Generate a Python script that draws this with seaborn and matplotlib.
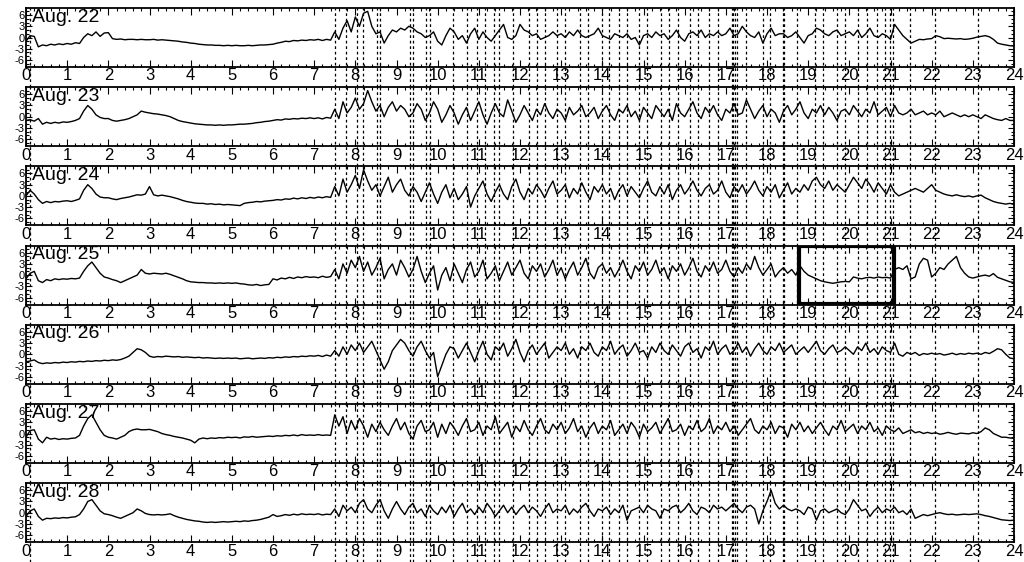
import numpy as np
import matplotlib
matplotlib.use('Agg')
import matplotlib.pyplot as plt
from matplotlib.patches import Rectangle
from matplotlib.ticker import MultipleLocator
import seaborn as sns

# ── Data: one value every 0.1 h, 0..24 h ──────────────────────────────────────
days = ['Aug. 22', 'Aug. 23', 'Aug. 24', 'Aug. 25', 'Aug. 26', 'Aug. 27', 'Aug. 28']
hours = np.round(np.arange(241) * 0.1, 1)

aug22 = [
    -1, 0.5, 0.3, -2.5, -2, -2.2, -1.8, -2, -1.7, -1.9,
    -1.6, -1.8, -1.4, -1.6, 0, 1, 0.5, 1.5, 0.3, 1.2,
    1.3, -0.3, -0.5, -0.4, -0.6, -0.5, -0.5, -0.6, -0.5, -0.6,
    -0.6, -0.5, -0.7, -0.6, -0.7, -0.8, -0.9, -1, -1.2, -1.3,
    -1.5, -1.6, -1.8, -1.9, -2, -2, -2.1, -2.1, -2.2, -2.1,
    -2.2, -2.1, -2.2, -2.2, -2.1, -2.2, -2.1, -2, -2, -1.9,
    -1.8, -1.5, -1.3, -1.0, -1.1, -0.8, -0.9, -0.7, -0.8, -0.6,
    -0.7, -0.5, -0.8, -0.5, -0.7, 1.5, -0.5, 2.5, 4.5, 1.5,
    5.5, 3, 6.5, 7, 3, 1, 1.5, -1.5, 0.5, 2,
    1.5, 2.5, 2, 3, 2.5, 1.5, 1, 0, 0.5, 1.5,
    -1, -2, 0.5, 2.5, 1.5, -0.5, 0.5, -1.5, 1, 2.5,
    -0.5, 1.5, 0, -1, 0.5, 2, 3.5, 0, -0.5, 0.5,
    3.5, 2, 1.5, 0.5, 1, -0.5, 0, 0.5, 1.5, 0.5,
    1, 0, 1.5, 0.5, 2, 0.5, 0, 0.5, 1, 2.5,
    0.5, 0, -0.5, 1, 0.5, 0, 1, -0.5, 0, -2,
    0.5, 1, 0, 1.5, 0.5, 1, -0.5, 0.5, 2, 0,
    -1, 1, 1.5, 0.5, 2, 0, 1, 0.5, 1.5, 0.5,
    1, 2.5, 0.5, 1, 3, 1.5, 0.5, 0, 1.5, -1.5,
    1, 2.5, 0.5, 1, 1, 0, 0.5, 1.5, 0, -1.5,
    0.5, 1, 2.5, 2, 1, 0.5, 1.5, 2, 0.5, 1,
    1.5, 0.5, 2, 0, 1, 2.5, 0.5, 0, 1, 0.5,
    -0.5, 3.5, 2, 0.5, -0.5, -1.5, -1, -0.5, -0.6, -0.4,
    -0.3, 0.5, 0.2, -0.3, -0.2, -0.3, -0.4, -0.3, -0.5, -0.4,
    -0.2, 0.1, 0.3, 0.5, 0.2, -0.5, -1.5, -1.8, -2, -2.2,
    -2.3,
]

aug23 = [
    -1, -0.8, -1.2, -0.5, -2, -1.5, -1.8, -1.5, -1.7, -1.4,
    -1.5, -1.3, -1, -0.5, 1.5, 3, 2, 0.5, -0.2, -0.5,
    -0.5, -1, -1.2, -1, -0.8, -0.5, 0, 0.5, 1.5, 1.2,
    1, 0.8, 0.7, 0.5, 0.3, 0, -0.5, -1, -1.3, -1.5,
    -1.7, -1.9, -2, -2.1, -2.2, -2.2, -2.3, -2.2, -2.3, -2.2,
    -2.2, -2.1, -2, -2, -1.9, -1.8, -1.6, -1.5, -1.3, -1.2,
    -1, -0.8, -0.9, -0.6, -0.7, -0.5, -0.6, -0.4, -0.5, -0.3,
    -0.5, -0.3, -0.6, -0.2, -0.4, 2, -0.5, 4, 1, 2.5,
    5, 2, 3.5, 7, 4, 1.5, 3, 0, 2.5, 4,
    1.5, 3, 2, 0, 1, 3.5, 2, -1, 1, 4,
    2, -1.5, 0.5, 3, 1, -2, 0.5, 2.5, -1, 1.5,
    4, 0.5, -2, 1, 3.5, 1, 0, 4.5, 1.5, -1.5,
    0.5, 3, 1, -1, 2, 0.5, 3.5, 1, -0.5, 2,
    1, -1, 2.5, 0.5, 1.5, 3, 0, 1, 2.5, -0.5,
    1.5, 3, 0.5, -1, 2, 1, 3, 0, 1.5, -1,
    2.5, 1, -0.5, 3, 1.5, 0, 2, -1, 3.5, 1,
    0, 2, 4, 1, -0.5, 2.5, 1, 3, 0.5, -1,
    2, 1, 3.5, 0.5, 1, 4.5, 2, -0.5, 1.5, 3,
    0, 2, 1, -1.5, 1.5, 3, 0.5, 2, 4, 1,
    -0.5, 2, 1, 3, 0.5, 2.5, 1, -1, 1.5, 2,
    0.5, 3, 1.5, 0, 2, 1, 4, 0.5, 1.5, 2.5,
    0, 3, 1, 0.5, 1, 2, 0.5, 1, 1.5, 0.5,
    1, 0.5, 1.5, 0, 0.5, 1, 0.5, 0, 0.5, 0,
    0.5, 0, -0.5, 0.5, 0, -0.5, -0.8, -1, -0.5, -1,
    -1,
]

aug24 = [
    0, 1.5, 0.5, -1, -2, -1.5, -1.8, -1.5, -1.6, -1.4,
    -1.3, -1.5, -1.2, -0.8, 1.5, 3, 2, 0.5, -0.3, -0.5,
    -0.5, -0.8, -1, -0.7, -0.5, -0.3, 0, 0.3, 0.2, 0.5,
    2.5, 0.3, 0, 0.2, 0, -0.2, -0.5, -0.8, -1.2, -1.5,
    -1.7, -1.9, -2, -2, -2.2, -2.1, -2.3, -2.2, -2.4, -2.3,
    -2.4, -2.5, -2.6, -2, -1.8, -1.7, -1.5, -1.6, -1.4, -1.3,
    -1.2, -1, -1.1, -0.8, -0.9, -0.6, -0.8, -0.5, -0.7, -0.4,
    -0.6, -0.3, -0.5, -0.2, -0.4, 2.5, 0, 4.5, 1, 3,
    5.5, 2, 7, 4, 1.5, 3, 0, 2.5, 5, 1,
    3, 4.5, 1.5, 0, 2.5, 1, -1.5, 1, 3.5, 0.5,
    -2, 1, 3, -0.5, 2, -1, 0.5, 2.5, -3, 0,
    2, 4, 0.5, -1.5, 1, 3, 0.5, -1, 2.5, 4.5,
    1, -1, 2, 0.5, 3, 1.5, -0.5, 2, 4, 0.5,
    1.5, 3, -0.5, 2, 0.5, 3.5, 1, -1, 2.5, 1,
    3, 0.5, 2, -1, 1.5, 3, 0, 2.5, 1, -0.5,
    2, 4, 1, 0, 2.5, 0.5, 3, -1, 1.5, 3,
    0.5, 2, 4, 1.5, 0, 2, 3, 0.5, 1.5, 4,
    1, -0.5, 2.5, 1, 3, 0.5, 2, 4, 1.5, 0,
    2.5, 1, 3, -0.5, 1.5, 3.5, 0.5, 2, 1, 3,
    1.5, 4, 5, 3, 2, 4, 1.5, 3, 2, 1,
    3, 5, 3.5, 2, 4.5, 3, 1, 3.5, 2, 0.5,
    3, 1, 0, 0.5, 1, 1.5, 2, 1.5, 1, 2,
    3, 1.5, 1, 0.5, 0.2, 0, 0.3, 0, -0.2, 0,
    -0.3, 0, 0.2, -0.5, -1, -1.5, -1.8, -2, -2.2, -2,
    -2.3,
]

aug25 = [
    -1, 0.5, 1, -1.5, -2, -1.2, -1.5, -1, -1.2, -1,
    -1.1, -0.9, -1, -0.8, 1, 2.5, 3.5, 2, 0.5, -0.5,
    -0.8, -1.2, -1.5, -2, -1.5, -1, -0.5, 0, 1.5, 0.5,
    0.3, 0.5, 0.4, 0.3, 0.5, 0.2, -0.2, -0.6, -1, -1.5,
    -1.8, -1.9, -2, -2, -2.1, -2.1, -2.2, -2.1, -2.2, -2.1,
    -2.2, -2.1, -2.3, -2.4, -2.6, -2.7, -2.5, -2.8, -2.6, -2.5,
    -1, -1.3, -0.8, -1, -0.6, -0.9, -0.5, -0.7, -0.4, -0.6,
    -0.5, -0.7, -0.3, -0.6, -0.4, 1.5, -1, 3, 0.5, 4,
    2, 5, 1, 3.5, 0, 2, 4.5, -1, 1.5, 3,
    0, 4, 2, -0.5, 1.5, 5, 1, -2, 0.5, 2.5,
    -4, 0, 2, -1.5, 3, 0.5, -2, 1.5, 3.5, -0.5,
    1, 4, -1, 0.5, 2.5, -1.5, 1, 3.5, 0, 2,
    4, 0.5, -1, 2.5, 1, 3, -0.5, 1.5, 4, 0,
    2, -1, 1.5, 3.5, 0, 2, 4.5, 0.5, -1, 2,
    3, 0.5, 2, -0.5, 1.5, 4, 1, -1, 2.5, 1,
    3.5, 0, 1.5, 4, 0.5, 2, -1, 2.5, 1, 3,
    0, 2, 4.5, 1, -0.5, 2.5, 1, 3.5, 0.5, 1.5,
    4, 1, -0.5, 2, 0.5, 3, 1.5, 5, 2, 0,
    1.5, 3, -0.5, 1, 2, 0.5, 1.5, 0, 2.5, 1,
    0, -0.5, -1, -1.5, -1.8, -2, -2.2, -2, -1.8, -1.7,
    -1.8, -0.5, -0.8, -1, -0.7, -0.6, -0.8, -0.5, -0.7, -0.6,
    -0.8, 1.5, 2, 1.5, 2.5, -1, -0.5, 3, 4.5, 4,
    -0.5, 0.5, 2, 1.5, 3, 4, 5, 2, 0.5, -0.5,
    -0.8, -0.5, -0.2, 0, -0.3, 0.4, -0.6, -1, -1.4, -1.8,
    -2,
]

aug26 = [
    -2, -1.8, -1.5, -2.2, -2.5, -2.3, -2.4, -2.2, -2.3, -2.1,
    -2.2, -2, -2.1, -1.9, -2, -1.8, -1.9, -1.7, -1.8, -1.6,
    -1.7, -1.5, -1.6, -1.4, -1, -0.5, 0.5, 1.5, 1.2, 0.5,
    -0.5, -0.8, -0.6, -0.7, -0.5, -0.6, -0.7, -0.6, -0.8, -0.7,
    -0.8, -0.9, -0.8, -1, -0.9, -1, -1.1, -1, -1.1, -1,
    -1.1, -1, -1.2, -1.1, -1, -1.2, -1.1, -1, -1.1, -0.9,
    -1, -0.8, -0.9, -0.7, -0.8, -0.6, -0.7, -0.5, -0.6, -0.4,
    -0.5, -0.3, -0.6, -0.2, -0.5, 1, -0.5, 2, 0, 2.5,
    1, 3, 0.5, 2, 3.5, 1, -1.5, -4, -2, 1,
    2.5, 4, 3, 1, -0.5, 2, 3.5, 1, -1, 0.5,
    -6, -3, 0, 2, 1.5, -1, 1, 3, 0.5, -2,
    1, 3.5, 0, -1.5, 2, 1, 3, -0.5, 1.5, 4,
    0.5, -2, 1, 2.5, 0, 1.5, 3, -1, 0.5, 2,
    1, 3, 0, 1.5, -1, 2, 1, 3, 0.5, -0.5,
    2, 1, 3.5, 0, 1.5, 2.5, -0.5, 1, 3, 0.5,
    1, -1, 2, 0.5, 3, 1, 0, 2.5, 1, -0.5,
    2, 3, 0.5, 1.5, -1, 2, 1, 3.5, 0, 1.5,
    2.5, 0, 1, 3, 0.5, 2, -0.5, 1.5, 3, 1,
    0, 2, 1, 3, 0.5, 1.5, 2.5, 0, 1, 2,
    0.5, 2, 3.5, 1, 0, 1.5, 2.5, 0.5, 1, 2,
    1, 0, 2, 1, 3, 0.5, 1.5, 0, 2, 1,
    0.5, 3, 0, -0.5, 0.5, 0, 0.5, -0.3, 0.2, 0,
    0.3, 0, 0.2, -0.2, 0, 0.3, -0.1, 0.2, 0, 0.3,
    0.1, 0.3, 0, 0.5, 0.2, 0.8, 1.5, 1.2, 0, -1,
    -1.2,
]

aug27 = [
    -1, 0.8, 1, -1.5, -2.5, -1, -1.5, -1.3, -1.6, -1.4,
    -1.5, -1.3, -1.2, -0.5, 2, 4, 5, 3, 1, -0.5,
    -1, -1.2, -1.5, -1, -0.5, 0.5, 1, 1.2, 1, 1,
    1.1, 0.8, 0.5, 0, -0.3, -0.5, -0.8, -1, -1.2, -1.5,
    -1.8, -2.5, -1.5, -1.2, -1.4, -1.2, -1.3, -1.1, -1.2, -1,
    -1.1, -1, -1.2, -0.9, -1, -0.8, -1, -0.9, -0.8, -0.7,
    -0.8, -0.6, -0.7, -0.5, -0.6, -0.4, -0.6, -0.3, -0.5, -0.4,
    -0.5, -0.3, -0.5, -0.4, -0.5, 5, 2, 4.5, 0, 3.5,
    1, 4, 2, -1, 2.5, 0.5, 3, 1, -0.5, 2,
    4, 1, 3, 0, -1.5, 2, 3.5, 0.5, 1, 3,
    -1, 2.5, 0, 3, 1.5, -0.5, 2, 4, 0.5, 1,
    3, -0.5, 2, 1, 4.5, 0, 1.5, 3, -1, 2,
    0.5, 3.5, 1, -0.5, 2, 4, 1, 0, 2.5, 1,
    3, 0, 1.5, 4, 0.5, 2, -1, 1.5, 3, 0,
    2, 1, 3.5, -0.5, 1, 2.5, 0, 3, 1.5, -1,
    2.5, 0.5, 1.5, 3, 0, 2, 4, 0.5, 1, 2.5,
    -0.5, 2, 1, 3.5, 0.5, 1.5, 4, 0, 2, 1,
    3, 0.5, 2, -0.5, 1, 2.5, 4, 1, 0, 2,
    1, 3, 0, 2, 1.5, -1, 2.5, 1, 3, 0.5,
    2, 0, 1.5, 3, 1, -0.5, 2, 1, 3.5, 0.5,
    1.5, 2.5, 0, 2, 1, 3, 0.5, 1.5, -0.5, 2,
    1, 0.5, 1.5, 0, 0.5, 1, 0.2, 0.5, 0, 0.3,
    0, 0.2, -0.2, 0, 0.3, 0, -0.2, 0.1, 0, -0.1,
    0.2, 0, 0.5, 1.5, 1, 0, -0.5, -1, -1, -1.2,
    -1.3,
]

aug28 = [
    -1, 0.5, 1, -1, -2, -1.5, -1.6, -1.4, -1.5, -1.3,
    -1.4, -1.2, -1.1, -0.5, 1, 3, 3.5, 2, 0.5, -0.3,
    -0.5, -0.8, -1.2, -1.5, -1, -0.5, 0, 1, 0.5, -0.2,
    -0.5, -0.6, -0.5, -0.6, -0.5, -0.3, -0.8, -1.2, -1.5, -1.8,
    -2, -2.2, -2.3, -2.5, -2.6, -2.5, -2.6, -2.5, -2.4, -2.5,
    -2.4, -2.3, -2.4, -2.2, -2.3, -2.1, -2, -1.8, -1.5, -1.2,
    -0.5, -1, -0.8, -0.5, -0.7, -0.4, -0.6, -0.3, -0.5, -0.4,
    -0.5, -0.3, -0.6, -0.4, -0.5, 1, -1, 2, 0.5, 1.5,
    0, 2.5, 3.5, 1, 0, 2, 3.5, 0.5, -1.5, 1,
    3, 1, -0.5, 1.5, 2.5, 0, 1, -1, 2, 0.5,
    -0.5, 1.5, 0, 2, -1, 1, 2.5, 0, 1, -0.5,
    1.5, 0, 2.5, 1, -1, 0.5, 2, 0, 1.5, -0.5,
    1, 2, 0, 1.5, 0.5, -1, 1, 2.5, 0, 1,
    0.5, 2, -0.5, 1, 0, 1.5, 2.5, 0.5, -1, 1,
    0.5, 1.5, -0.5, 1, 0, 2, -2, 0.5, 1, 1.5,
    0, 2, 1, 0.5, -1.5, 1, 0.5, 1.5, 2, 0,
    1, 2.5, 0.5, -0.5, 1.5, 1, 0, 2, 1, 1.5,
    0.5, 1.5, 2.5, 1, 0, 1.5, 2, 1, -3, 0.5,
    3, 6, 2.5, 1, 2, 1, 0.5, 1, 0.5, -0.5,
    1.5, 1, -2, 0.5, 1, 0, 0.5, 1, 0, -0.5,
    1, 3.5, 2, 0.5, 1, -1, 0.5, 1.5, 0, 1,
    0.5, 1.5, 0, 0.5, -0.5, 1, -1.5, -1, -0.5, -0.8,
    -0.5, -0.2, 0, -0.3, -0.5, -0.4, -0.6, -0.5, -0.4, -0.5,
    -0.4, -0.3, -0.5, -0.8, -1, -1.3, -1.6, -1.9, -2, -2.1,
    -2,
]

series = [aug22, aug23, aug24, aug25, aug26, aug27, aug28]

# times of the dashed marker lines (h), shared by all panels
event_times = [
    0.1, 7.5, 7.78, 8.05, 8.18, 8.52, 8.6, 9.32, 9.4, 9.72, 9.82,
    10.38, 10.72, 10.95, 11.15, 11.38, 11.5, 11.82, 12.22, 12.42,
    12.6, 12.9, 13.1, 13.45, 13.65, 13.98, 14.15, 14.4, 14.6, 14.9,
    15.08, 15.42, 15.63, 15.84, 16.12, 16.33, 16.6, 16.82,
    17.15, 17.18, 17.22, 17.26, 17.5, 17.9, 18.07, 18.38, 18.42,
    18.72, 19.17, 19.37, 19.7, 19.9, 20.22, 20.42, 20.66, 20.86,
    20.98, 21.07, 21.47, 22.08, 23.12,
]

# highlighted interval on Aug. 25
box_day = 'Aug. 25'
box_start, box_end = 18.78, 21.08

y_ticks = [-6, -3, 0, 3, 6]

# ── Plot ──────────────────────────────────────────────────────────────────────
sns.set_style('ticks')
plt.rcParams['font.family'] = ['Liberation Sans', 'DejaVu Sans']
plt.rcParams['text.color'] = 'black'
plt.rcParams['xtick.color'] = 'black'
plt.rcParams['ytick.color'] = 'black'

fig = plt.figure(figsize=(10.24, 5.62), dpi=100)
W, H = 1024, 562
left, right = 26, 1014
top0, panel_h, pitch = 8, 59, 79.2
ylo, yhi = -7.9, 7.9

for i, (day, vals) in enumerate(zip(days, series)):
    top = top0 + i * pitch
    ax = fig.add_axes([left / W, 1 - (top + panel_h) / H,
                       (right - left) / W, panel_h / H])
    sns.lineplot(x=hours, y=vals, ax=ax, color='black', linewidth=1.0)

    gap = (pitch - panel_h) / panel_h
    for t in event_times:
        ax.axvline(t, ymin=-gap, ymax=1, color='black', lw=0.9,
                   ls=(0, (2.2, 2.2)), clip_on=False, zorder=1)

    if day == box_day:
        ax.add_patch(Rectangle((box_start, ylo + 0.2), box_end - box_start,
                               (yhi - ylo) - 0.4, fill=False,
                               edgecolor='black', lw=3, zorder=5))

    ax.set_xlim(0, 24)
    ax.set_ylim(ylo, yhi)
    ax.set_xticks(range(0, 25))
    ax.xaxis.set_minor_locator(MultipleLocator(0.2))
    ax.set_yticks(y_ticks)
    ax.set_yticklabels([str(v) for v in y_ticks])
    ax.yaxis.set_minor_locator(MultipleLocator(1))
    ax.tick_params(axis='x', which='both', direction='in', top=True, bottom=True,
                   labelsize=12, pad=1, width=0.8, colors='black')
    ax.tick_params(axis='x', which='major', length=5)
    ax.tick_params(axis='x', which='minor', length=2.5)
    ax.tick_params(axis='y', which='both', direction='in', left=True, right=True,
                   labelsize=8, pad=1, width=0.8, colors='black')
    ax.tick_params(axis='y', which='major', length=4)
    ax.tick_params(axis='y', which='minor', length=2.5)
    for sp in ax.spines.values():
        sp.set_linewidth(1.3)
        sp.set_color('black')
    ax.set_xlabel('')
    ax.set_ylabel('')
    ax.text(0.006, 0.99, day, transform=ax.transAxes, ha='left', va='top',
            fontsize=14, color='black', zorder=6)

fig.savefig('out.png', dpi=100)
